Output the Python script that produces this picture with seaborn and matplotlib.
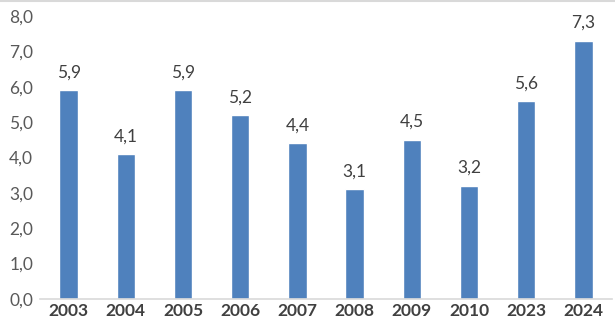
import matplotlib
matplotlib.use("Agg")
import matplotlib.pyplot as plt
import seaborn as sns
import pandas as pd

years = ["2003", "2004", "2005", "2006", "2007", "2008", "2009", "2010", "2023", "2024"]
values = [5.9, 4.1, 5.9, 5.2, 4.4, 3.1, 4.5, 3.2, 5.6, 7.3]
yticks = [0, 1, 2, 3, 4, 5, 6, 7, 8]

df = pd.DataFrame({"year": years, "value": values})

sns.set_theme(style="white")
plt.rcParams["font.family"] = ["Lato", "DejaVu Sans"]

fig = plt.figure(figsize=(6.15, 3.27), dpi=100)
ax = fig.add_axes([40 / 615, 28 / 327, 572 / 615, 283 / 327])

bar_color = "#4F81BD"
sns.barplot(data=df, x="year", y="value", color=bar_color, saturation=1,
            width=0.32, ax=ax)

ax.set_ylim(0, 8)
ax.set_xlim(-0.5, len(years) - 0.5)
ax.set_yticks(yticks)
ax.set_yticklabels([f"{t:.1f}".replace(".", ",") for t in yticks],
                   fontsize=12.5, color="#595959")
ax.set_xticklabels(years, fontsize=12.5, fontweight="bold", color="#404040")
ax.tick_params(axis="both", length=0, pad=3)
ax.tick_params(axis="y", pad=5)
ax.set_xlabel("")
ax.set_ylabel("")

for side in ["top", "right", "left"]:
    ax.spines[side].set_visible(False)
ax.spines["bottom"].set_color("#D9D9D9")
ax.spines["bottom"].set_linewidth(1.2)

for i, v in enumerate(values):
    ax.annotate(f"{v:.1f}".replace(".", ","), (i, v), xytext=(0, 7),
                textcoords="offset points", ha="center", va="bottom",
                fontsize=12.5, color="#404040")

# thin frame line along the top edge of the figure
fig.add_artist(plt.Line2D([0, 1], [0.997, 0.997], color="#D9D9D9", lw=1.5,
                          transform=fig.transFigure))

fig.savefig("out.png", dpi=100)
